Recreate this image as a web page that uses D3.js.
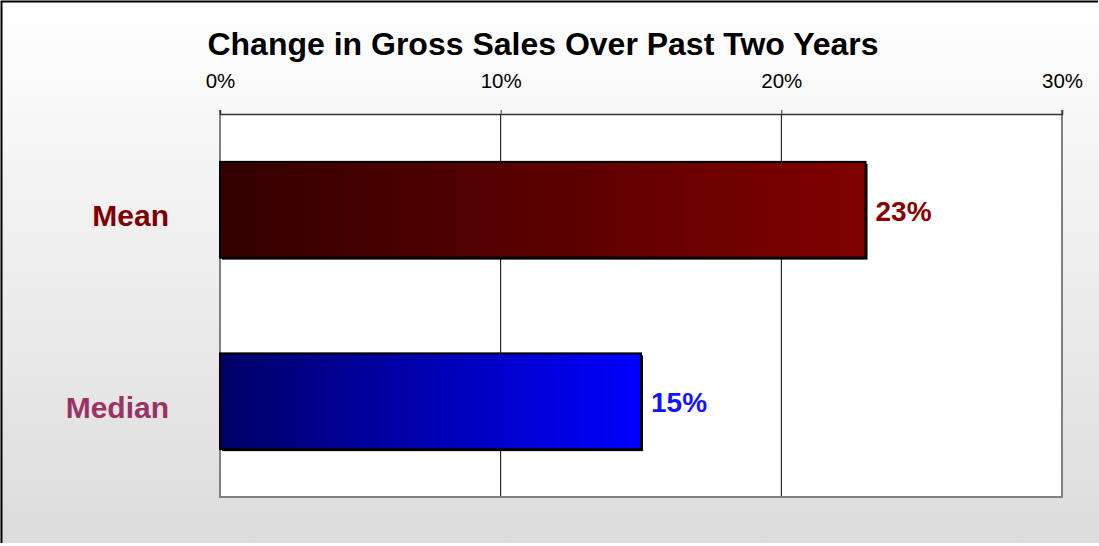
<!DOCTYPE html>
<html>
<head>
<meta charset="utf-8">
<script src="https://cdn.jsdelivr.net/npm/d3@7"></script>
<style>
  body { margin: 0; background: #fff; }
  text { font-family: Arial, "Liberation Sans", sans-serif; }
</style>
</head>
<body>
<svg width="1099" height="546"></svg>
<script>
const categories = ['Mean', 'Median'];
const values = [23, 15];
const tickValues = [0, 10, 20, 30];
const labelColors = ['#800000', '#993366'];
const valueColors = ['#8b0000', '#1414ff'];
const barColors = [['#330000', '#800000'], ['#000066', '#0000ff']];

const svg = d3.select('svg');
const width = +svg.attr('width');
const height = +svg.attr('height');
const margin = {top: 114, right: 37, bottom: 49, left: 220};

const defs = svg.append('defs');

const bg = defs.append('linearGradient')
    .attr('id', 'bg').attr('x1', 0).attr('y1', 0).attr('x2', 0).attr('y2', 1);
bg.append('stop').attr('offset', '0%').attr('stop-color', '#ffffff');
bg.append('stop').attr('offset', '100%').attr('stop-color', '#dcdcdc');

barColors.forEach((c, i) => {
    const g = defs.append('linearGradient')
        .attr('id', 'bar' + i).attr('x1', 0).attr('y1', 0).attr('x2', 1).attr('y2', 0);
    g.append('stop').attr('offset', '0%').attr('stop-color', c[0]);
    g.append('stop').attr('offset', '100%').attr('stop-color', c[1]);
});

// background and frame
svg.append('rect')
    .attr('x', 0).attr('y', 0).attr('width', width).attr('height', height - 3)
    .attr('fill', 'url(#bg)');
svg.append('path')
    .attr('d', `M1.5,${height - 3}V1.5H${width - 1}`)
    .attr('fill', 'none').attr('stroke', '#000').attr('stroke-width', 2);

const x = d3.scaleLinear()
    .domain([0, 30])
    .range([margin.left, width - margin.right]);

const y = d3.scaleBand()
    .domain(categories)
    .range([margin.top, height - margin.bottom])
    .paddingInner(0.5)
    .paddingOuter(0.25);

// plot area
svg.append('rect')
    .attr('x', x(0)).attr('y', margin.top)
    .attr('width', x(30) - x(0)).attr('height', height - margin.bottom - margin.top)
    .attr('fill', '#fff');

// gridlines
svg.append('g')
    .selectAll('line')
    .data(tickValues.slice(1, -1))
    .enter().append('line')
    .attr('x1', d => x(d)).attr('x2', d => x(d))
    .attr('y1', margin.top).attr('y2', height - margin.bottom)
    .attr('stroke', '#000').attr('stroke-width', 1);

// plot border: gray left/right/bottom
svg.append('path')
    .attr('d', `M${x(0)},${margin.top - 4}V${height - margin.bottom}H${x(30)}V${margin.top - 4}`)
    .attr('fill', 'none').attr('stroke', '#808080').attr('stroke-width', 2);

// top axis
const axis = svg.append('g')
    .attr('transform', `translate(0,${margin.top})`)
    .call(d3.axisTop(x).tickValues(tickValues).tickFormat(d => d + '%').tickSize(4).tickPadding(22));
axis.select('.domain').attr('stroke', '#333').attr('stroke-width', 1.5);
axis.selectAll('.tick line').attr('stroke', '#333');
axis.selectAll('.tick text')
    .attr('font-size', 20.5).attr('fill', '#000')
    .attr('font-family', 'Arial, "Liberation Sans", sans-serif');

// bars
const bars = svg.append('g')
    .selectAll('g')
    .data(categories)
    .enter().append('g');

bars.append('rect')
    .attr('x', x(0) + 2)
    .attr('y', d => y(d) + 2)
    .attr('width', (d, i) => x(values[i]) - x(0))
    .attr('height', y.bandwidth())
    .attr('fill', '#000');

bars.append('rect')
    .attr('x', x(0))
    .attr('y', d => y(d))
    .attr('width', (d, i) => x(values[i]) - x(0))
    .attr('height', y.bandwidth())
    .attr('fill', (d, i) => `url(#bar${i})`)
    .attr('stroke', '#000')
    .attr('stroke-width', 2);

// value labels
bars.append('text')
    .attr('x', (d, i) => x(values[i]) + 10)
    .attr('y', d => y(d) + y.bandwidth() / 2 + 1)
    .attr('dy', '0.36em')
    .attr('font-size', 28)
    .attr('font-weight', 'bold')
    .attr('fill', (d, i) => valueColors[i])
    .text((d, i) => values[i] + '%');

// category labels
bars.append('text')
    .attr('x', 169)
    .attr('y', d => y(d) + y.bandwidth() / 2 + 5)
    .attr('dy', '0.38em')
    .attr('text-anchor', 'end')
    .attr('font-size', 30)
    .attr('font-weight', 'bold')
    .attr('fill', (d, i) => labelColors[i])
    .text(d => d);

// title
svg.append('text')
    .attr('x', 543)
    .attr('y', 55)
    .attr('text-anchor', 'middle')
    .attr('font-size', 32)
    .attr('font-weight', 'bold')
    .attr('fill', '#000')
    .text('Change in Gross Sales Over Past Two Years');
</script>
</body>
</html>
